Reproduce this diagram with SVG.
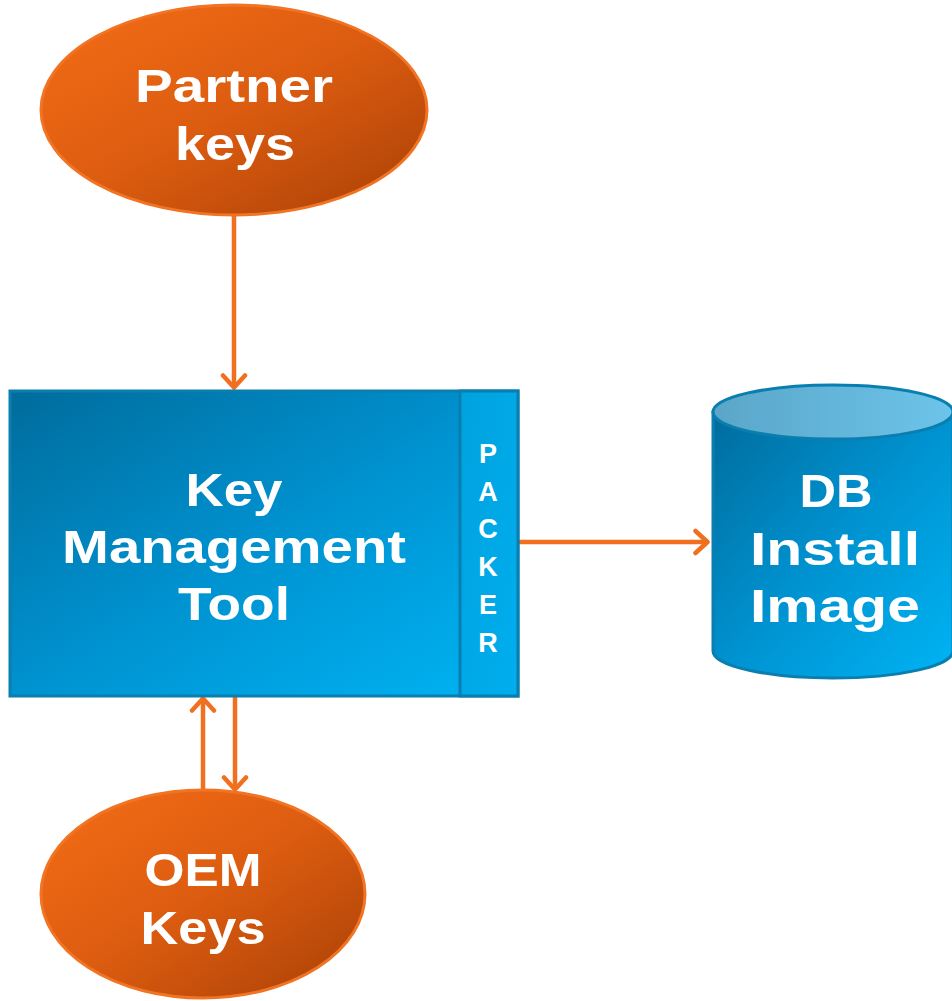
<svg xmlns="http://www.w3.org/2000/svg" width="952" height="1001" viewBox="0 0 952 1001">
  <defs>
    <linearGradient id="orangeFill" x1="0" y1="0" x2="1" y2="1">
      <stop offset="0" stop-color="#f56d16"/>
      <stop offset="0.5" stop-color="#dc5c10"/>
      <stop offset="1" stop-color="#a94006"/>
    </linearGradient>
    <linearGradient id="blueFill" x1="0" y1="0" x2="1" y2="1">
      <stop offset="0" stop-color="#006c9c"/>
      <stop offset="0.5" stop-color="#0092d0"/>
      <stop offset="1" stop-color="#00b4f4"/>
    </linearGradient>
    <linearGradient id="packerFill" x1="0" y1="0" x2="1" y2="1">
      <stop offset="0" stop-color="#00a2de"/>
      <stop offset="1" stop-color="#00aeee"/>
    </linearGradient>
    <linearGradient id="cylTop" x1="0" y1="0" x2="1" y2="0">
      <stop offset="0" stop-color="#5aa6c8"/>
      <stop offset="1" stop-color="#6cc4ea"/>
    </linearGradient>
    <marker id="chevron" viewBox="0 0 18 28" refX="16" refY="14" markerWidth="18" markerHeight="28" markerUnits="userSpaceOnUse" orient="auto">
      <polyline points="3.5,3 15.5,14 3.5,25" fill="none" stroke="#f07020" stroke-width="4.5" stroke-linecap="round" stroke-linejoin="round"/>
    </marker>
  </defs>
  <style>
    .oval { fill: url(#orangeFill); stroke: #f07424; stroke-width: 3; }
    .label { font-family: "Liberation Sans", Arial, sans-serif; font-weight: bold; fill: #ffffff; text-anchor: middle; font-size: 47px; }
    .packer { font-family: "Liberation Sans", Arial, sans-serif; font-weight: bold; fill: #ffffff; text-anchor: middle; font-size: 27px; }
    .link { fill: none; stroke: #f07020; stroke-width: 4.5; marker-end: url(#chevron); }
  </style>

  <rect width="952" height="1001" fill="#ffffff"/>

  <g id="connectors">
    <line class="link" x1="234" y1="216" x2="234" y2="388"/>
    <line class="link" x1="519" y1="542" x2="708" y2="542"/>
    <line class="link" x1="203" y1="792" x2="203" y2="698"/>
    <line class="link" x1="235" y1="697" x2="235" y2="790"/>
  </g>

  <g id="partner-keys">
    <ellipse class="oval" cx="234" cy="110" rx="193" ry="105"/>
    <text class="label" x="234" y="102" textLength="198" lengthAdjust="spacingAndGlyphs">Partner</text>
    <text class="label" x="235" y="160" textLength="120" lengthAdjust="spacingAndGlyphs">keys</text>
  </g>

  <g id="key-management-tool">
    <rect x="10" y="391" width="508" height="305" fill="url(#blueFill)" stroke="#0a7eaf" stroke-width="3"/>
    <rect x="460" y="391" width="58" height="305" fill="url(#packerFill)" stroke="#0a7eaf" stroke-width="3"/>
    <text class="label" x="234" y="506" textLength="97" lengthAdjust="spacingAndGlyphs">Key</text>
    <text class="label" x="234" y="563" textLength="344" lengthAdjust="spacingAndGlyphs">Management</text>
    <text class="label" x="234" y="620" textLength="112" lengthAdjust="spacingAndGlyphs">Tool</text>
    <text class="packer" x="488" y="463">P</text>
    <text class="packer" x="488" y="501">A</text>
    <text class="packer" x="488" y="538">C</text>
    <text class="packer" x="488" y="576">K</text>
    <text class="packer" x="488" y="614">E</text>
    <text class="packer" x="488" y="652">R</text>
  </g>

  <g id="db-install-image">
    <path d="M713,412 L713,651 A120,27 0 0 0 953,651 L953,412 Z" fill="url(#blueFill)" stroke="#0a7eaf" stroke-width="3"/>
    <ellipse cx="833" cy="412" rx="120" ry="27" fill="url(#cylTop)" stroke="#0a7eaf" stroke-width="3"/>
    <text class="label" x="836" y="507" textLength="73" lengthAdjust="spacingAndGlyphs">DB</text>
    <text class="label" x="835" y="565" textLength="170" lengthAdjust="spacingAndGlyphs">Install</text>
    <text class="label" x="835" y="622" textLength="170" lengthAdjust="spacingAndGlyphs">Image</text>
  </g>

  <g id="oem-keys">
    <ellipse class="oval" cx="203" cy="894" rx="162" ry="104"/>
    <text class="label" x="203" y="886" textLength="117" lengthAdjust="spacingAndGlyphs">OEM</text>
    <text class="label" x="203" y="944" textLength="125" lengthAdjust="spacingAndGlyphs">Keys</text>
  </g>
</svg>
